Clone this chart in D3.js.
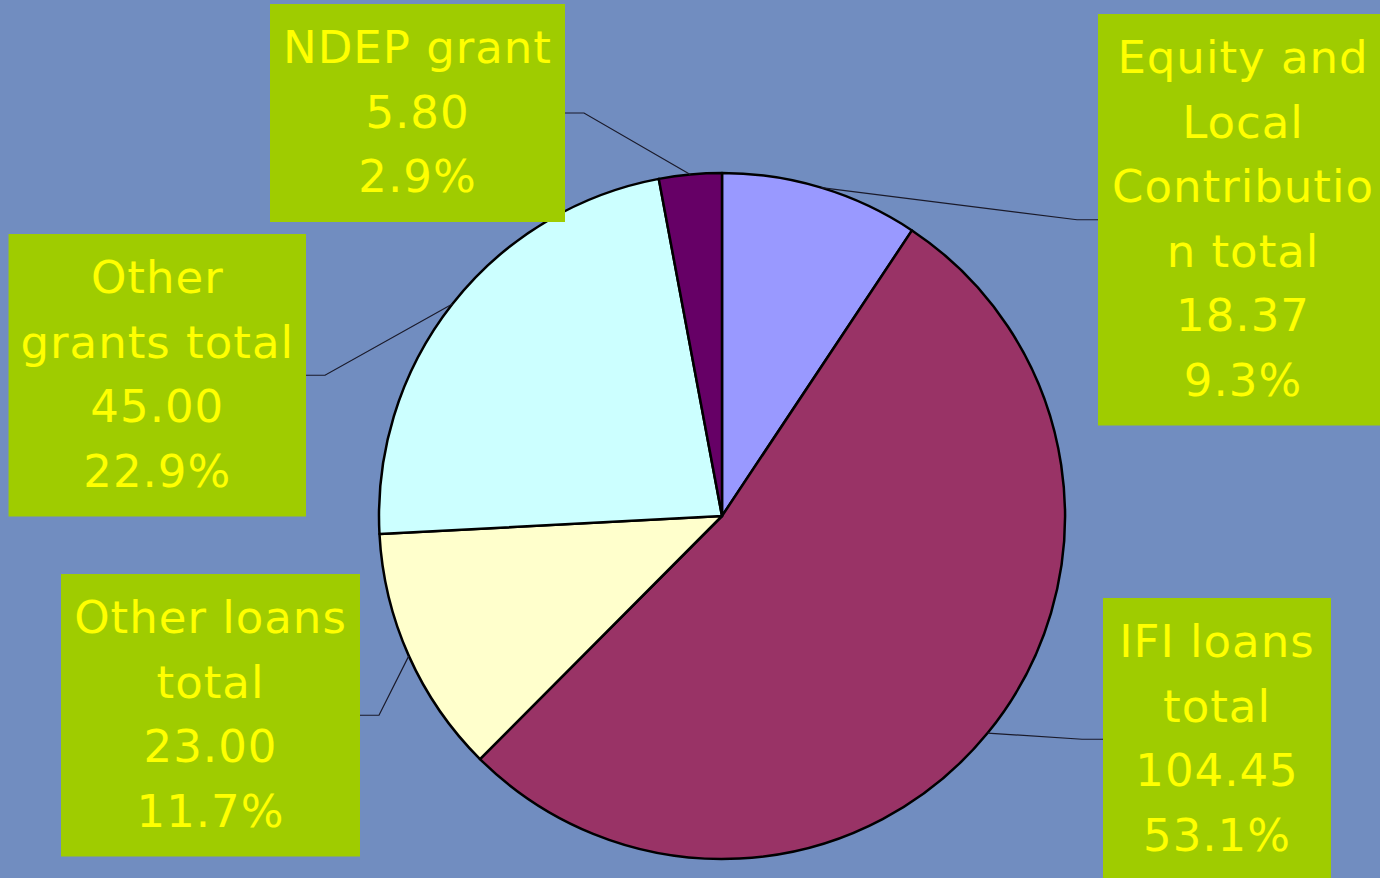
<!DOCTYPE html>
<html>
<head>
<meta charset="utf-8">
<script src="https://cdn.jsdelivr.net/npm/d3@7"></script>
<style>
  html, body { margin: 0; padding: 0; background: #718dc0; overflow: hidden; }
  svg { display: block; }
</style>
</head>
<body>
<div id="chart"></div>
<script>
// slice data, clockwise from 12 o'clock
const categories = ["Equity and Local Contribution total", "IFI loans total", "Other loans total", "Other grants total", "NDEP grant"];
const values = [18.37, 104.45, 23.00, 45.00, 5.80];
const labelLines = [
  ["Equity and", "Local", "Contributio", "n total"],
  ["IFI loans", "total"],
  ["Other loans", "total"],
  ["Other", "grants total"],
  ["NDEP grant"]
];
const sliceColors = ["#9999ff", "#993366", "#ffffcc", "#ccffff", "#660066"];

// where each label box sits: side = which edge faces the pie
const labelLayout = [
  { side: "right", x: 1098, top: 14,  minW: 290 },
  { side: "right", x: 1103, top: 598, minW: 228 },
  { side: "left",  x: 360,  top: 574, minW: 299 },
  { side: "left",  x: 306,  top: 234, minW: 297 },
  { side: "left",  x: 565,  top: 4,   minW: 295 }
];

const width = 1380, height = 878;
const cx = 722, cy = 516, radius = 343;
const lineH = 64.5, padTop = 59, padBottom = 30, padX = 12;

const total = d3.sum(values);
const fmtVal = d3.format(".2f");
const fmtPct = v => (v * 100).toFixed(1) + "%";

const svg = d3.select("#chart").append("svg")
  .attr("width", width)
  .attr("height", height);

svg.append("rect")
  .attr("width", width)
  .attr("height", height)
  .attr("fill", "#718dc0");

const pie = d3.pie().sort(null).value(d => d);
const arcs = pie(values);
const arc = d3.arc().innerRadius(0).outerRadius(radius);

const pieLayer = svg.append("g").attr("transform", `translate(${cx},${cy})`);
pieLayer.selectAll("path")
  .data(arcs)
  .enter().append("path")
  .attr("d", arc)
  .attr("fill", (d, i) => sliceColors[i])
  .attr("stroke", "#000")
  .attr("stroke-width", 2.5)
  .attr("stroke-linejoin", "round");

const lineLayer = svg.append("g");
const labelLayer = svg.append("g");

arcs.forEach((a, i) => {
  let lay = labelLayout[i];
  let lines = labelLines[i].concat([fmtVal(values[i]), fmtPct(values[i] / total)]);
  let boxH = padTop + (lines.length - 1) * lineH + padBottom;

  let g = labelLayer.append("g");
  let rect = g.append("rect").attr("fill", "#9fcc00");
  let text = g.append("text")
    .attr("text-anchor", "middle")
    .attr("fill", "#ffff00")
    .style("font-family", "'DejaVu Sans', Verdana, sans-serif")
    .style("font-size", "45px")
    .style("letter-spacing", "1px");

  lines.forEach((ln, k) => {
    text.append("tspan")
      .attr("x", 0)
      .attr("y", lay.top + padTop + k * lineH)
      .text(ln);
  });

  let maxW = d3.max(text.selectAll("tspan").nodes(), n => n.getComputedTextLength());
  let boxW = Math.max(maxW + 2 * padX, lay.minW);
  let left = lay.side === "right" ? lay.x : lay.x - boxW;

  rect.attr("x", left).attr("y", lay.top).attr("width", boxW).attr("height", boxH);
  text.attr("transform", `translate(${left + boxW / 2},0)`);

  // leader line: arc edge at slice middle -> elbow -> box edge
  let mid = (a.startAngle + a.endAngle) / 2;
  let px = cx + radius * Math.sin(mid);
  let py = cy - radius * Math.cos(mid);
  let ey = lay.top + boxH / 2;
  let ex = lay.side === "right" ? lay.x - 21 : lay.x + 19;

  lineLayer.append("path")
    .attr("d", d3.line()([[px, py], [ex, ey], [lay.x, ey]]))
    .attr("fill", "none")
    .attr("stroke", "#1a1a2a")
    .attr("stroke-width", 1.2);
});
</script>
</body>
</html>
